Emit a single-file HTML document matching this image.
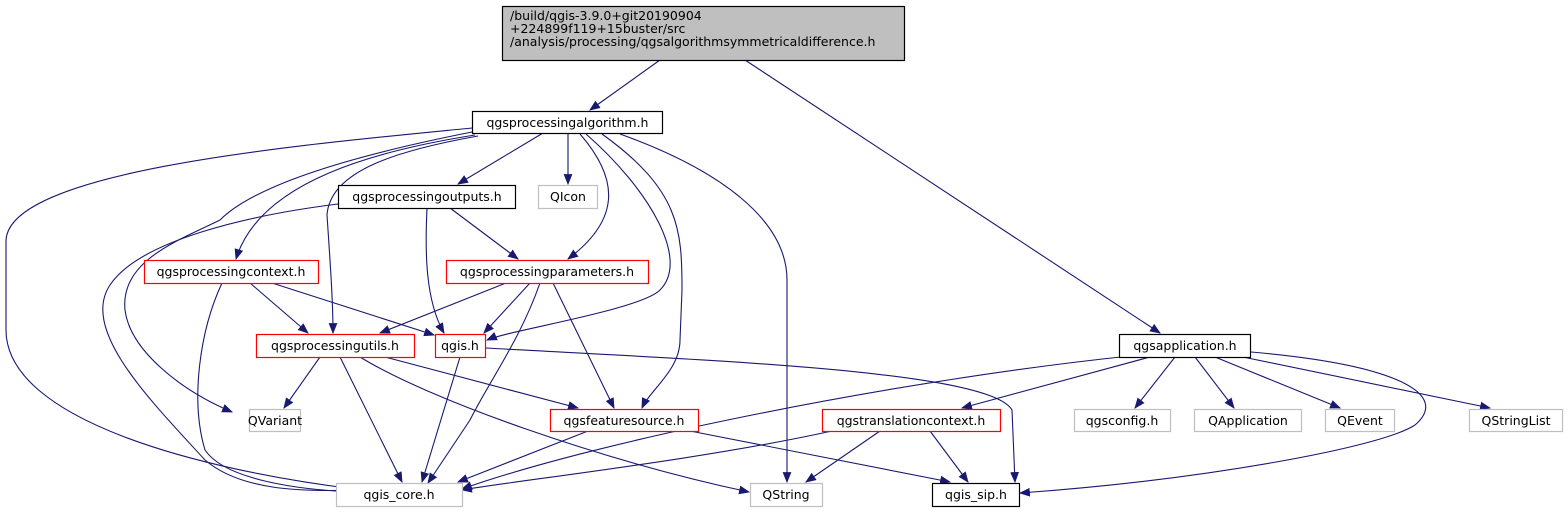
<!DOCTYPE html>
<html><head><meta charset="utf-8"><style>
html,body{margin:0;padding:0;background:#fff;width:1568px;height:515px;overflow:hidden}
svg text{font-family:"DejaVu Sans","Liberation Sans",sans-serif;font-size:12.5px;fill:#000}
</style></head><body>
<svg width="1568" height="515" viewBox="0 0 1568 515" xmlns="http://www.w3.org/2000/svg">
<defs><marker id="a" viewBox="0 0 10 10" refX="9" refY="5" markerWidth="11" markerHeight="11" markerUnits="userSpaceOnUse" orient="auto"><path d="M0,1 L10,5 L0,9 z" fill="#191970"/></marker></defs>
<g fill="none" stroke="#191970" stroke-width="1.1" marker-end="url(#a)">
<path d="M660,60 L590,110"/>
<path d="M745,60 L1160,333"/>
<path d="M543,133 L458,184"/>
<path d="M568,133 L568,184"/>
<path d="M475,135 C380,150 260,180 236,259"/>
<path d="M478,136 C400,150 330,170 327,215 C330,260 333,300 333,333"/>
<path d="M472,128 C300,145 10,170 6,240 L6,330 C6,420 200,470 355,489"/>
<path d="M472,132 C330,160 250,190 220,220 C180,240 120,260 125,310 C130,350 180,390 232,412"/>
<path d="M580,134 C620,180 620,220 568,259"/>
<path d="M586,134 C650,190 690,260 660,290 C640,310 510,330 487,340"/>
<path d="M602,134 C680,190 682,230 682,290 L680,340 C680,370 650,390 642,408"/>
<path d="M620,134 C720,170 787,220 787,280 L787,482"/>
<path d="M450,208 L518,259"/>
<path d="M427,208 C425,250 425,300 444,333"/>
<path d="M338,204 C250,215 140,240 110,285 C80,330 150,400 205,460 C240,490 300,492 355,490"/>
<path d="M250,283 L308,333"/>
<path d="M272,283 L434,335"/>
<path d="M222,283 C200,330 190,400 205,450 C225,480 300,490 355,492"/>
<path d="M506,283 L380,333"/>
<path d="M530,283 L484,333"/>
<path d="M553,283 L614,408"/>
<path d="M540,283 C520,340 490,380 470,420 L428,483"/>
<path d="M320,357 L284,408"/>
<path d="M340,357 L402,482"/>
<path d="M385,357 L578,408"/>
<path d="M360,357 C430,400 600,460 749,492"/>
<path d="M460,357 L422,482"/>
<path d="M486,348 C700,360 990,370 1012,410 L1015,482"/>
<path d="M588,431 L458,482"/>
<path d="M690,431 L950,482"/>
<path d="M1130,356 C900,380 600,440 462,489"/>
<path d="M1150,357 L962,408"/>
<path d="M1175,357 L1135,408"/>
<path d="M1195,357 L1234,408"/>
<path d="M1215,357 L1340,408"/>
<path d="M1243,357 L1490,408"/>
<path d="M1251,352 C1400,365 1450,395 1415,425 C1380,448 1200,480 1020,493"/>
<path d="M832,431 C700,460 520,480 462,490"/>
<path d="M880,431 L806,482"/>
<path d="M930,431 L968,482"/>
</g>
<g stroke-width="1.2">
<rect x="502.5" y="6.5" width="402" height="54" fill="#bfbfbf" stroke="#000"/>
<rect x="472.5" y="111.5" width="190" height="22" fill="#fff" stroke="#000"/>
<rect x="338.5" y="185.5" width="177" height="23" fill="#fff" stroke="#000"/>
<rect x="538.5" y="185.5" width="59" height="23" fill="#fff" stroke="#bfbfbf"/>
<rect x="144.5" y="260.5" width="174" height="23" fill="#fff" stroke="#f00"/>
<rect x="446.5" y="260.5" width="202" height="23" fill="#fff" stroke="#f00"/>
<rect x="256.5" y="334.5" width="158" height="23" fill="#fff" stroke="#f00"/>
<rect x="435.5" y="334.5" width="50" height="23" fill="#fff" stroke="#f00"/>
<rect x="1119.5" y="334.5" width="131" height="23" fill="#fff" stroke="#000"/>
<rect x="249.5" y="409.5" width="51" height="22" fill="#fff" stroke="#bfbfbf"/>
<rect x="550.5" y="409.5" width="148" height="22" fill="#fff" stroke="#f00"/>
<rect x="822.5" y="409.5" width="178" height="22" fill="#fff" stroke="#f00"/>
<rect x="1074.5" y="409.5" width="96" height="22" fill="#fff" stroke="#bfbfbf"/>
<rect x="1194.5" y="409.5" width="107" height="22" fill="#fff" stroke="#bfbfbf"/>
<rect x="1325.5" y="409.5" width="69" height="22" fill="#fff" stroke="#bfbfbf"/>
<rect x="1469.5" y="409.5" width="93" height="22" fill="#fff" stroke="#bfbfbf"/>
<rect x="336.5" y="483.5" width="126" height="23" fill="#fff" stroke="#bfbfbf"/>
<rect x="750.5" y="483.5" width="72" height="23" fill="#fff" stroke="#bfbfbf"/>
<rect x="932.5" y="483.5" width="87" height="23" fill="#fff" stroke="#000"/>
</g>
<text x="510" y="20">/build/qgis-3.9.0+git20190904</text>
<text x="510" y="33">+224899f119+15buster/src</text>
<text x="510" y="46">/analysis/processing/qgsalgorithmsymmetricaldifference.h</text>
<g text-anchor="middle">
<text x="567.5" y="127">qgsprocessingalgorithm.h</text>
<text x="427" y="201">qgsprocessingoutputs.h</text>
<text x="568" y="201">QIcon</text>
<text x="231" y="276">qgsprocessingcontext.h</text>
<text x="547" y="276">qgsprocessingparameters.h</text>
<text x="335" y="350">qgsprocessingutils.h</text>
<text x="460" y="350">qgis.h</text>
<text x="1185" y="350">qgsapplication.h</text>
<text x="275" y="425">QVariant</text>
<text x="624" y="425">qgsfeaturesource.h</text>
<text x="911" y="425">qgstranslationcontext.h</text>
<text x="1122" y="425">qgsconfig.h</text>
<text x="1248" y="425">QApplication</text>
<text x="1360" y="425">QEvent</text>
<text x="1516" y="425">QStringList</text>
<text x="399" y="499">qgis_core.h</text>
<text x="786" y="499">QString</text>
<text x="976" y="499">qgis_sip.h</text>
</g>
</svg>
</body></html>
